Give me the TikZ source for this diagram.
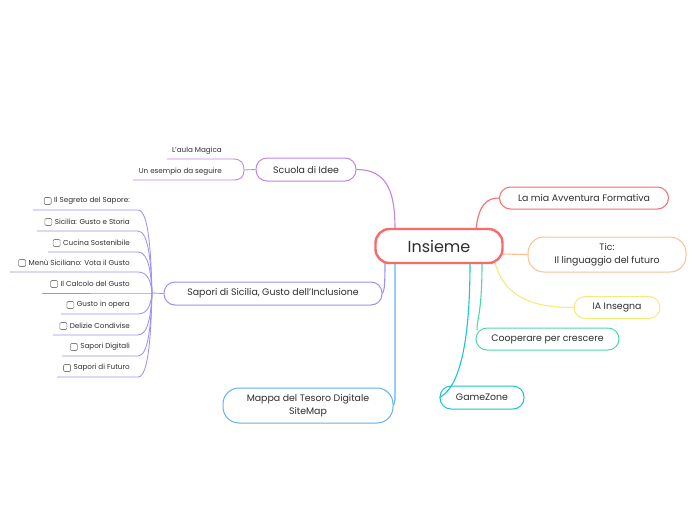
\documentclass[tikz,border=0pt]{standalone}
\usepackage{fontspec}
\setmainfont{Poppins}
\definecolor{coral}{HTML}{F76B6B}
\definecolor{peach}{HTML}{FDBE92}
\definecolor{lemon}{HTML}{F5EA7A}
\definecolor{mint}{HTML}{4ED8AA}
\definecolor{teal}{HTML}{1CC6C8}
\definecolor{sky}{HTML}{5FB2F6}
\definecolor{lavender}{HTML}{9C91F5}
\definecolor{lilac}{HTML}{C383E6}
\definecolor{ink}{HTML}{2E2E2E}

\tikzset{
  topic/.style={draw, fill=white, line width=1pt, rounded corners=11pt, align=center,
    text=ink, inner sep=0pt, font=\fontsize{9.4}{12.5}\selectfont},
  leaf/.style={anchor=east, text=ink, inner sep=1pt, font=\fontsize{7.2}{8.5}\selectfont},
  chkbox/.style={draw=gray, line width=0.6pt, rounded corners=1.2pt, minimum size=7pt,
    inner sep=0pt, label distance=1.5pt},
  branch/.style={line width=1.1pt},
  twig/.style={line width=0.85pt}
}

\begin{document}
\begin{tikzpicture}[x=1pt,y=-1pt]
  \useasboundingbox (0,0) rectangle (697,520);

  % connection points on the central topic
  \coordinate (p-scuola) at (395,229);
  \coordinate (p-avv) at (476,229);
  \coordinate (p-tic) at (502,254);
  \coordinate (p-sapori) at (385,263);
  \coordinate (p-mappa) at (395,263);
  \coordinate (p-game) at (470,263);
  \coordinate (p-coop) at (482,263);
  \coordinate (p-ia) at (495,263);

  % main topics
  \node[topic, draw=lilac, minimum width=100pt, minimum height=23pt] (scuola) at (306,169.5) {Scuola di Idee};
  \node[topic, draw=lavender, minimum width=218pt, minimum height=23pt] (sapori) at (273,293.5) {Sapori di Sicilia, Gusto dell'Inclusione};
  \node[topic, draw=sky, rounded corners=16pt, minimum width=170pt, minimum height=35pt] (mappa) at (308,405.5) {Mappa del Tesoro Digitale\\SiteMap};
  \node[topic, draw=teal, minimum width=84pt, minimum height=23pt] (game) at (482,397.5) {GameZone};
  \node[topic, draw=mint, minimum width=143pt, minimum height=22pt] (coop) at (547.5,339) {Cooperare per crescere};
  \node[topic, draw=lemon, minimum width=86pt, minimum height=22pt] (ia) at (617,307.5) {IA Insegna};
  \node[topic, draw=peach, rounded corners=16pt, minimum width=158pt, minimum height=35pt] (tic) at (607,254.5) {Tic:\\Il linguaggio del futuro};
  \node[topic, draw=coral, minimum width=169pt, minimum height=22pt] (avv) at (584,198) {La mia Avventura Formativa};

  % branches
  \draw[branch, lilac] (scuola.east) .. controls +(32,0) and +(0,-35) .. (p-scuola);
  \draw[branch, coral] (p-avv) .. controls +(3,-25) and +(-12,0) .. (avv.west);
  \draw[branch, peach] (p-tic) -- (tic.west);
  \draw[branch, lemon] (p-ia) .. controls +(10,35) and +(-40,0) .. (ia.west);
  \draw[branch, mint] (p-coop) .. controls +(0,50) and +(0,-12) .. (477,330);
  \draw[branch, teal] (p-game) .. controls +(0,80) and +(20,-10) .. (game.west);
  \draw[branch, sky] (p-mappa) -- (395,400) .. controls +(0,3) and +(1,-2) .. (mappa.east);
  \draw[branch, lavender] (p-sapori) .. controls +(0,20) and +(2,-3) .. (sapori.east);

  % central topic
  \node[draw=coral, fill=white, line width=2.4pt, rounded corners=14pt, minimum width=127pt,
    minimum height=34pt, text=ink, font=\fontsize{16}{18}\selectfont] (insieme) at (439,246) {Insieme};

  % Scuola di Idee
  \coordinate (j-scuola) at (244,170);
  \draw[twig, lilac] (j-scuola) -- (scuola.west);
  \node[leaf] (aula) at (223,151) {L'aula Magica};
  \node[leaf] (esempio) at (223,172) {Un esempio da seguire};
  \draw[twig, lilac] (167,159) -- (233,159) .. controls (241,159) and (244,163) .. (j-scuola);
  \draw[twig, lilac] (133,180) -- (233,180) .. controls (241,180) and (244,177) .. (j-scuola);

  % Sapori di Sicilia
  \coordinate (j-sapori) at (152,293);
  \draw[twig, lavender] (j-sapori) -- (sapori.west);
  \foreach \y/\x/\txt [count=\i] in {210/33/{Il Segreto del Sapore:}, 231/37/{Sicilia: Gusto e Storia},
      252/48/{Cucina Sostenibile}, 272/10/{Menù Siciliano: Vota il Gusto}, 293/42/{Il Calcolo del Gusto},
      314/61/{Gusto in opera}, 335/53/{Delizie Condivise}, 356/62/{Sapori Digitali}, 377/57/{Sapori di Futuro}} {
    \node[leaf, label={[chkbox]left:{}}] (s\i) at (131,\y-9) {\txt};
    \pgfmathsetmacro{\ymid}{\y+0.55*(293-\y)}
    \draw[twig, lavender] (\x,\y) -- (138,\y) .. controls (149,\y) and (151,\ymid) .. (j-sapori);
  }
\end{tikzpicture}
\end{document}
